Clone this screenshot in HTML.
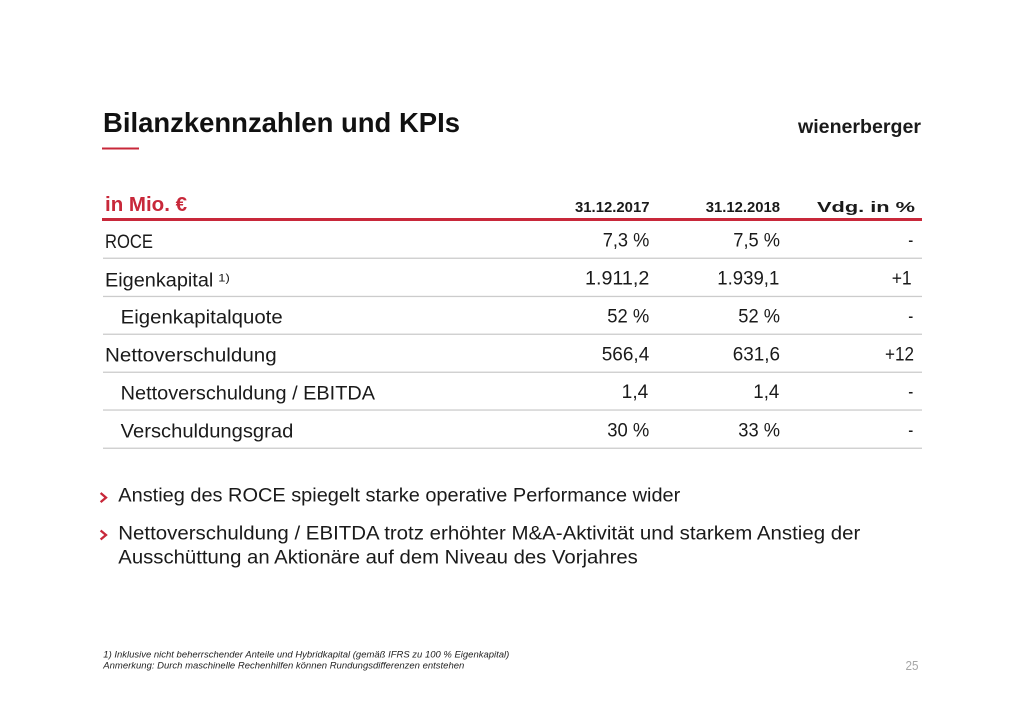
<!DOCTYPE html>
<html>
<head>
<meta charset="utf-8">
<style>
  html, body { margin: 0; padding: 0; background: #ffffff; }
  body { width: 1024px; height: 724px; overflow: hidden; }
  svg { display: block; }
  text { font-family: "Liberation Sans", "DejaVu Sans", sans-serif; }
</style>
</head>
<body>
<svg width="1024" height="724" viewBox="0 0 1024 724" xmlns="http://www.w3.org/2000/svg">
  <rect x="0" y="0" width="1024" height="724" fill="#ffffff"/>

  <!-- Title -->
  <text x="103" y="132" font-size="27.5" font-weight="bold" fill="#111111" textLength="357" lengthAdjust="spacingAndGlyphs">Bilanzkennzahlen und KPIs</text>
  <rect x="102" y="147.5" width="37" height="2" fill="#c8283a"/>

  <!-- Logo -->
  <text x="798" y="133" font-size="19.5" font-weight="bold" fill="#1a1a1a" textLength="123" lengthAdjust="spacingAndGlyphs">wienerberger</text>

  <!-- Table header -->
  <text x="105" y="211" font-size="20" font-weight="bold" fill="#c8283a" textLength="82" lengthAdjust="spacingAndGlyphs">in Mio. €</text>
  <text x="575" y="212" font-size="15" font-weight="bold" fill="#1a1a1a" textLength="74.5" lengthAdjust="spacingAndGlyphs">31.12.2017</text>
  <text x="705.7" y="212" font-size="15" font-weight="bold" fill="#1a1a1a" textLength="74.3" lengthAdjust="spacingAndGlyphs">31.12.2018</text>
  <text x="817" y="212" font-size="15" font-weight="bold" fill="#1a1a1a" textLength="98" lengthAdjust="spacingAndGlyphs">Vdg. in %</text>
  <rect x="102" y="218" width="820" height="3" fill="#c8283a"/>

  <!-- Row separators -->
  <g fill="#cccccc">
    <rect x="103" y="257.6" width="819" height="1.3"/>
    <rect x="103" y="295.8" width="819" height="1.3"/>
    <rect x="103" y="333.6" width="819" height="1.3"/>
    <rect x="103" y="371.6" width="819" height="1.3"/>
    <rect x="103" y="409.4" width="819" height="1.3"/>
    <rect x="103" y="447.6" width="819" height="1.3"/>
  </g>

  <!-- Row labels -->
  <g font-size="19" fill="#1a1a1a">
    <text x="105" y="248" textLength="48" lengthAdjust="spacingAndGlyphs">ROCE</text>
    <text x="105" y="286.3" textLength="108.3" lengthAdjust="spacingAndGlyphs">Eigenkapital</text>
    <text x="218.3" y="281.5" font-size="11" textLength="11.5" lengthAdjust="spacingAndGlyphs">1)</text>
    <text x="120.7" y="323.6" textLength="162" lengthAdjust="spacingAndGlyphs">Eigenkapitalquote</text>
    <text x="105" y="361.6" textLength="171.7" lengthAdjust="spacingAndGlyphs">Nettoverschuldung</text>
    <text x="120.7" y="399.4" textLength="254.3" lengthAdjust="spacingAndGlyphs">Nettoverschuldung / EBITDA</text>
    <text x="120.7" y="437.6" textLength="172.6" lengthAdjust="spacingAndGlyphs">Verschuldungsgrad</text>
  </g>

  <!-- Values -->
  <g font-size="19" fill="#1a1a1a">
    <!-- ROCE -->
    <text x="602.7" y="246.3" textLength="46.6" lengthAdjust="spacingAndGlyphs">7,3 %</text>
    <text x="733.3" y="246.3" textLength="46.7" lengthAdjust="spacingAndGlyphs">7,5 %</text>
    <text x="908.3" y="246.3" textLength="5" lengthAdjust="spacingAndGlyphs">-</text>
    <!-- Eigenkapital -->
    <text x="585" y="284.5" textLength="64.3" lengthAdjust="spacingAndGlyphs">1.911,2</text>
    <text x="717.3" y="284.5" textLength="62" lengthAdjust="spacingAndGlyphs">1.939,1</text>
    <text x="891.7" y="284.5" textLength="20" lengthAdjust="spacingAndGlyphs">+1</text>
    <!-- Eigenkapitalquote -->
    <text x="607.3" y="322.3" textLength="42" lengthAdjust="spacingAndGlyphs">52 %</text>
    <text x="738.3" y="322.3" textLength="41.7" lengthAdjust="spacingAndGlyphs">52 %</text>
    <text x="908.3" y="322.3" textLength="5" lengthAdjust="spacingAndGlyphs">-</text>
    <!-- Nettoverschuldung -->
    <text x="601.7" y="360.3" textLength="47.6" lengthAdjust="spacingAndGlyphs">566,4</text>
    <text x="732.7" y="360.3" textLength="47.3" lengthAdjust="spacingAndGlyphs">631,6</text>
    <text x="885" y="360.3" textLength="29" lengthAdjust="spacingAndGlyphs">+12</text>
    <!-- Nettoverschuldung / EBITDA -->
    <text x="621.7" y="398" textLength="26.6" lengthAdjust="spacingAndGlyphs">1,4</text>
    <text x="753.3" y="398" textLength="26" lengthAdjust="spacingAndGlyphs">1,4</text>
    <text x="908.3" y="398" textLength="5" lengthAdjust="spacingAndGlyphs">-</text>
    <!-- Verschuldungsgrad -->
    <text x="607.3" y="436.3" textLength="42" lengthAdjust="spacingAndGlyphs">30 %</text>
    <text x="738.3" y="436.3" textLength="41.7" lengthAdjust="spacingAndGlyphs">33 %</text>
    <text x="908.3" y="436.3" textLength="5" lengthAdjust="spacingAndGlyphs">-</text>
  </g>

  <!-- Bullets -->
  <g fill="none" stroke="#c8283a" stroke-width="2.3" stroke-linecap="square">
    <polyline points="101.5,493.8 106,497.6 101.5,501.4"/>
    <polyline points="101.5,531.2 106,535 101.5,538.8"/>
  </g>
  <g font-size="19" fill="#1a1a1a">
    <text x="118.3" y="501.5" textLength="562" lengthAdjust="spacingAndGlyphs">Anstieg des ROCE spiegelt starke operative Performance wider</text>
    <text x="118.3" y="539.5" textLength="742" lengthAdjust="spacingAndGlyphs">Nettoverschuldung / EBITDA trotz erhöhter M&amp;A-Aktivität und starkem Anstieg der</text>
    <text x="118.3" y="563.5" textLength="519.5" lengthAdjust="spacingAndGlyphs">Ausschüttung an Aktionäre auf dem Niveau des Vorjahres</text>
  </g>

  <!-- Footnotes -->
  <g font-size="9.5" font-style="italic" fill="#222222">
    <text x="103.3" y="657.3" textLength="406" lengthAdjust="spacingAndGlyphs">1) Inklusive nicht beherrschender Anteile und Hybridkapital (gemäß IFRS zu 100 % Eigenkapital)</text>
    <text x="103.3" y="668.5" textLength="361" lengthAdjust="spacingAndGlyphs">Anmerkung: Durch maschinelle Rechenhilfen können Rundungsdifferenzen entstehen</text>
  </g>

  <!-- Page number -->
  <text x="905.5" y="670" font-size="12.5" fill="#a6a6a6" textLength="13" lengthAdjust="spacingAndGlyphs">25</text>
</svg>
</body>
</html>
